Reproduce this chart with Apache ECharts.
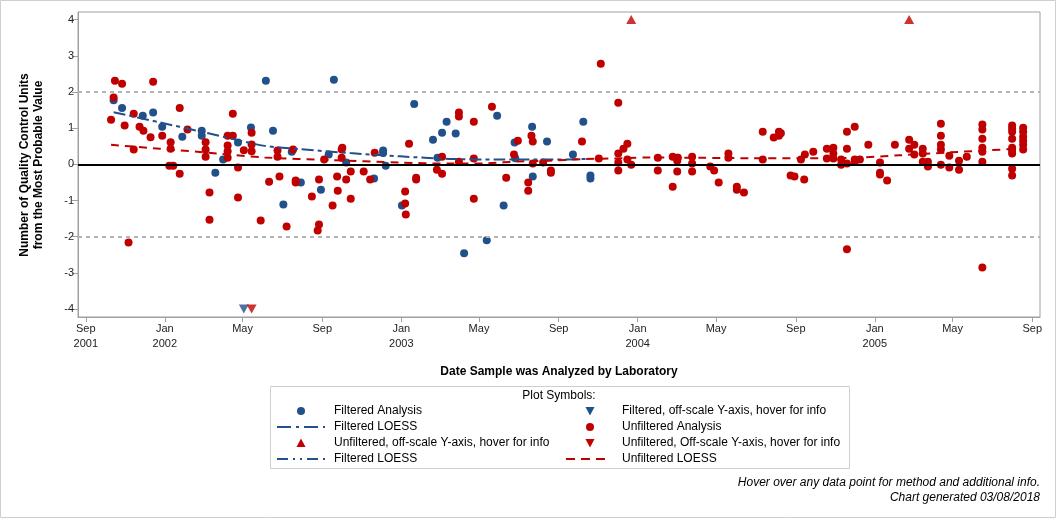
<!DOCTYPE html>
<html>
<head>
<meta charset="utf-8">
<script src="https://cdn.jsdelivr.net/npm/echarts@6/dist/echarts.min.js"></script>
<style>html,body{margin:0;padding:0;background:#fff}#c{width:1056px;height:518px}</style>
</head>
<body>
<div id="c"></div>
<script>
// ---------------- DATA ----------------
const tickDates = ['2001-09-01','2002-01-01','2002-05-01','2002-09-01','2003-01-01','2003-05-01','2003-09-01','2004-01-01','2004-05-01','2004-09-01','2005-01-01','2005-05-01','2005-09-01'];
const tickLabels = ['Sep\n2001','Jan\n2002','May','Sep','Jan\n2003','May','Sep','Jan\n2004','May','Sep','Jan\n2005','May','Sep'];
const yTicks = [-4,-3,-2,-1,0,1,2,3,4];
const xRange = ['2001-08-20','2005-09-13'];
const yRange = [-4.22, 4.21];
const refLevels = [0, 2, -2];

const filteredAnalysis = [
['2001-10-14',1.77],['2001-10-27',1.56],['2001-11-28',1.34],['2001-12-14',1.43],['2001-12-28',1.04],
['2002-01-28',0.76],['2002-02-27',0.93],['2002-02-27',0.79],['2002-03-20',-0.23],['2002-04-01',0.13],
['2002-04-24',0.60],['2002-05-14',1.02],['2002-06-06',2.31],['2002-06-17',0.93],['2002-07-03',-1.11],
['2002-07-16',0.35],['2002-07-30',-0.50],['2002-08-30',-0.70],['2002-09-11',0.27],['2002-09-19',2.34],
['2002-10-08',0.05],['2002-11-20',-0.39],['2002-12-04',0.38],['2002-12-04',0.31],['2002-12-08',-0.04],
['2003-01-02',-1.14],['2003-01-21',1.67],['2003-02-19',0.68],['2003-02-26',0.18],['2003-03-05',0.87],
['2003-03-12',1.18],['2003-03-26',0.85],['2003-04-08',-2.46],['2003-05-13',-2.10],['2003-05-29',1.34],
['2003-06-08',-1.14],['2003-06-25',0.60],['2003-06-26',0.17],['2003-07-22',1.04],['2003-07-23',-0.34],
['2003-08-14',0.63],['2003-09-23',0.27],['2003-10-09',1.18],['2003-10-20',-0.31],['2003-10-20',-0.39]
];
const filteredOffLow = [['2002-05-03',-4]];

const unfilteredAnalysis = [
['2001-10-16',2.31],['2001-10-27',2.23],['2001-12-14',2.28],['2001-10-14',1.85],['2001-10-10',1.23],
['2001-10-31',1.07],['2001-11-14',1.40],['2001-11-23',1.04],['2001-11-29',0.93],['2001-12-10',0.75],
['2001-11-14',0.41],['2001-12-28',0.79],['2002-01-10',0.61],['2002-01-10',0.43],['2002-01-24',1.56],
['2002-02-05',0.96],['2002-01-08',-0.04],['2002-01-14',-0.04],['2002-01-24',-0.26],['2002-03-05',0.61],
['2002-03-05',0.41],['2002-03-05',0.21],['2002-03-11',-0.78],['2002-03-11',-1.53],['2001-11-06',-2.16],
['2002-04-08',0.79],['2002-04-16',0.79],['2002-04-16',1.40],['2002-04-08',0.52],['2002-04-08',0.36],
['2002-04-08',0.18],['2002-04-24',-0.09],['2002-04-24',-0.92],['2002-05-03',0.39],['2002-05-15',0.87],
['2002-05-15',0.55],['2002-05-15',0.36],['2002-05-29',-1.55],['2002-06-11',-0.48],['2002-06-24',0.38],
['2002-06-24',0.21],['2002-06-27',-0.34],['2002-07-08',-1.72],['2002-07-18',0.41],['2002-07-22',-0.45],
['2002-07-22',-0.50],['2002-08-16',-0.89],['2002-08-27',-0.42],['2002-08-27',-1.66],['2002-08-25',-1.83],
['2002-09-04',0.13],['2002-09-17',-1.14],['2002-09-24',-0.34],['2002-09-25',-0.73],['2002-10-01',0.18],
['2002-10-01',0.41],['2002-10-02',0.46],['2002-10-08',-0.42],['2002-10-15',-0.20],['2002-10-15',-0.95],
['2002-11-04',-0.20],['2002-11-14',-0.42],['2002-11-21',0.32],['2003-01-07',-0.75],['2003-01-07',-1.08],
['2003-01-08',-1.39],['2003-01-13',0.57],['2003-01-24',-0.37],['2003-01-24',-0.42],['2003-02-25',-0.15],
['2003-03-05',-0.26],['2003-03-05',0.21],['2003-03-31',1.43],['2003-03-31',1.32],['2003-03-31',0.07],
['2003-04-23',1.18],['2003-05-21',1.59],['2003-04-23',0.16],['2003-04-23',-0.95],['2003-06-12',-0.37],
['2003-06-24',0.27],['2003-06-30',0.65],['2003-07-21',0.79],['2003-07-23',0.63],['2003-07-23',0.02],
['2003-07-16',-0.50],['2003-07-16',-0.73],['2003-08-08',0.05],['2003-08-20',-0.17],['2003-08-20',-0.23],
['2003-10-07',0.63],['2003-11-02',0.16],['2003-11-05',2.78],['2003-12-02',1.70],['2003-12-02',0.30],
['2003-12-02',0.05],['2003-12-02',-0.17],['2003-12-10',0.43],['2003-12-16',0.57],['2003-12-16',0.13],
['2003-12-22',-0.01],['2004-02-01',0.18],['2004-02-01',-0.17],['2004-02-24',0.21],['2004-03-02',0.18],
['2004-03-03',0.18],['2004-03-02',0.10],['2004-03-02',-0.20],['2004-02-24',-0.62],['2004-03-25',0.21],
['2004-03-25',0.02],['2004-03-25',-0.20],['2004-04-22',-0.06],['2004-04-28',-0.17],['2004-05-05',-0.50],
['2004-05-20',0.30],['2004-05-20',0.18],['2004-06-02',-0.62],['2004-06-02',-0.70],['2004-06-13',-0.78],
['2004-07-12',0.90],['2004-07-12',0.13],['2004-07-29',0.74],['2004-08-06',0.90],['2004-08-09',0.86],
['2004-08-06',0.79],['2004-08-24',-0.31],['2004-08-30',-0.34],['2004-09-09',0.13],['2004-09-15',0.27],
['2004-09-14',-0.42],['2004-09-28',0.35],['2004-10-19',0.43],['2004-10-19',0.16],['2004-10-29',0.46],
['2004-10-29',0.30],['2004-10-29',0.16],['2004-11-10',0.13],['2004-11-10',-0.01],['2004-11-19',0.90],
['2004-11-19',0.43],['2004-11-19',0.02],['2004-11-19',-2.35],['2004-12-01',1.04],['2004-12-01',0.13],
['2004-12-01',0.07],['2004-12-09',0.13],['2004-12-22',0.54],['2005-01-09',0.05],['2005-01-09',-0.23],
['2005-01-09',-0.28],['2005-01-20',-0.45],['2005-02-01',0.54],['2005-02-23',0.68],['2005-02-23',0.43],
['2005-03-03',0.54],['2005-03-03',0.27],['2005-03-16',0.43],['2005-03-16',0.30],['2005-03-16',0.07],
['2005-03-24',0.07],['2005-03-24',-0.06],['2005-04-13',1.12],['2005-04-13',0.79],['2005-04-13',0.54],
['2005-04-13',0.41],['2005-04-13',-0.01],['2005-04-26',0.24],['2005-04-26',-0.09],['2005-05-11',0.10],
['2005-05-11',-0.15],['2005-05-23',0.21],['2005-06-16',-2.85],['2005-06-16',1.10],['2005-06-16',0.96],
['2005-06-16',0.71],['2005-06-16',0.46],['2005-06-16',0.35],['2005-06-16',0.07],['2005-08-01',1.07],
['2005-08-01',0.98],['2005-08-01',0.90],['2005-08-01',0.71],['2005-08-01',0.46],['2005-08-01',0.38],
['2005-08-01',0.30],['2005-08-01',-0.12],['2005-08-01',-0.31],['2005-08-18',1.01],['2005-08-18',0.90],
['2005-08-18',0.76],['2005-08-18',0.65],['2005-08-18',0.54],['2005-08-18',0.41]
];
const unfilteredOffHigh = [['2003-12-22',4],['2005-02-23',4]];
const unfilteredOffLow = [['2002-05-15',-4]];

const filteredLoess = [
['2001-10-14',1.44],['2001-12-24',1.16],['2002-02-24',0.91],['2002-04-26',0.66],['2002-06-04',0.51],
['2002-07-28',0.42],['2002-10-14',0.31],['2002-12-30',0.22],['2003-03-17',0.15],['2003-06-02',0.13],
['2003-08-18',0.13],['2003-10-19',0.15]
];
const unfilteredLoess = [
['2001-10-10',0.54],['2001-12-24',0.43],['2002-02-24',0.34],['2002-06-04',0.19],['2002-09-12',0.12],
['2002-12-30',0.05],['2003-03-17',0.02],['2003-05-15',0.03],['2003-07-01',0.08],['2003-08-18',0.10],
['2003-10-05',0.14],['2003-12-10',0.17],['2004-01-20',0.19],['2004-04-05',0.18],['2004-06-22',0.17],
['2004-09-07',0.17],['2004-11-23',0.18],['2005-02-08',0.25],['2005-04-27',0.33],['2005-07-29',0.42]
];

const legendRows = [
  [{sym:'circle', color:'blue', text:'Filtered Analysis'}, {sym:'down', color:'blue', text:'Filtered, off-scale Y-axis, hover for info'}],
  [{sym:'dashdot', color:'blue', text:'Filtered LOESS'}, {sym:'circle', color:'red', text:'Unfiltered Analysis'}],
  [{sym:'up', color:'red', text:'Unfiltered, off-scale Y-axis, hover for info'}, {sym:'down', color:'red', text:'Unfiltered, Off-scale Y-axis, hover for info'}],
  [{sym:'dashdotdot', color:'blue', text:'Filtered LOESS'}, {sym:'dash', color:'red', text:'Unfiltered LOESS'}]
];

// ---------------- RENDER ----------------
const BLUE = '#22508a', RED = '#c00000';
const FONT = '"Liberation Sans", Arial, sans-serif';
function d(s){ const p = s.split('-').map(Number); return Date.UTC(p[0], p[1]-1, p[2]); }
const conv = arr => arr.map(r => [d(r[0]), r[1]]);
const tickTs = tickDates.map(d);

const chart = echarts.init(document.getElementById('c'), null, {renderer:'canvas'});

const G = {left:78, top:12, width:962, height:305};

const graphics = [];
graphics.push({type:'rect', shape:{x:0.5,y:0.5,width:1055,height:517}, style:{fill:'none', stroke:'#cfcfcf', lineWidth:1}, silent:true});
graphics.push({type:'text', x:32, y:165, rotation:Math.PI/2, style:{text:'Number of Quality Control Units\nfrom the Most Probable Value', font:'bold 12px '+FONT, fill:'#000', align:'center', verticalAlign:'middle', lineHeight:14}});
graphics.push({type:'text', x:559, y:372, style:{text:'Date Sample was Analyzed by Laboratory', font:'bold 12px '+FONT, fill:'#000', align:'center', verticalAlign:'middle'}});
graphics.push({type:'rect', shape:{x:270.5,y:386.5,width:579,height:82}, style:{fill:'none', stroke:'#cfcfcf', lineWidth:1}});
graphics.push({type:'text', x:559, y:396, style:{text:'Plot Symbols:', font:'12px '+FONT, fill:'#000', align:'center', verticalAlign:'middle'}});
const colSym = [301, 590], colLineL = [[277,325],[566,610]], colText = [334, 622];
legendRows.forEach((row, i) => {
  const y = 411 + i*16;
  row.forEach((it, j) => {
    const col = it.color === 'blue' ? BLUE : RED;
    const cx = colSym[j];
    if (it.sym === 'circle') graphics.push({type:'circle', shape:{cx:cx, cy:y, r:4}, style:{fill:col}});
    else if (it.sym === 'up') graphics.push({type:'polygon', shape:{points:[[cx-4.5,y+4],[cx+4.5,y+4],[cx,y-4.5]]}, style:{fill:col}});
    else if (it.sym === 'down') graphics.push({type:'polygon', shape:{points:[[cx-4.5,y-4],[cx+4.5,y-4],[cx,y+4.5]]}, style:{fill:col}});
    else {
      const dash = it.sym === 'dashdot' ? [14,5,3,5] : it.sym === 'dashdotdot' ? [11,5,2,5,2,5] : [9,6];
      graphics.push({type:'line', shape:{x1:colLineL[j][0], y1:y, x2:colLineL[j][1], y2:y}, style:{stroke:col, lineWidth:2, lineDash:dash}});
    }
    graphics.push({type:'text', x:colText[j], y:y, style:{text:it.text, font:'12px '+FONT, fill:'#000', align:'left', verticalAlign:'middle'}});
  });
});
graphics.push({type:'text', x:1040, y:483, style:{text:'Hover over any data point for method and additional info.', font:'italic 12px '+FONT, fill:'#000', align:'right', verticalAlign:'middle'}});
graphics.push({type:'text', x:1040, y:498, style:{text:'Chart generated 03/08/2018', font:'italic 12px '+FONT, fill:'#000', align:'right', verticalAlign:'middle'}});

const option = {
  animation:false,
  backgroundColor:'#fff',
  grid:{left:G.left, top:G.top, width:G.width, height:G.height, show:true, borderColor:'#a0a0a0', borderWidth:1, containLabel:false},
  xAxis:{
    type:'value', min:d(xRange[0]), max:d(xRange[1]),
    axisLine:{show:true, onZero:false, lineStyle:{color:'#a0a0a0'}},
    axisTick:{show:true, length:5, inside:false, lineStyle:{color:'#a0a0a0'}, customValues:tickTs},
    axisLabel:{show:true, color:'#222', fontSize:11, fontFamily:FONT, margin:4, lineHeight:15, customValues:tickTs,
      formatter:function(v){ const i = tickTs.indexOf(v); return i>=0 ? tickLabels[i] : ''; }},
    splitLine:{show:false}, minorTick:{show:false}
  },
  yAxis:{
    type:'value', min:yRange[0], max:yRange[1],
    axisLine:{show:true, onZero:false, lineStyle:{color:'#a0a0a0'}},
    axisTick:{show:true, length:6, lineStyle:{color:'#a0a0a0'}, customValues:yTicks},
    axisLabel:{show:true, color:'#222', fontSize:11, fontFamily:FONT, margin:4, customValues:yTicks},
    splitLine:{show:false}
  },
  graphic:graphics,
  series:[
    {type:'scatter', data:[], z:1, silent:true,
      markLine:{silent:true, symbol:'none', label:{show:false}, animation:false,
        data: refLevels.map(v => ({yAxis:v, lineStyle: v===0 ? {color:'#000', width:2, type:'solid'} : {color:'#b4b4b4', width:2, type:[4,4]}}))}},
    {name:'Filtered Analysis', type:'scatter', data:conv(filteredAnalysis), symbol:'circle', symbolSize:8, itemStyle:{color:BLUE, opacity:1}, z:3},
    {name:'Unfiltered Analysis', type:'scatter', data:conv(unfilteredAnalysis), symbol:'circle', symbolSize:8, itemStyle:{color:RED, opacity:1}, z:3},
    {name:'Filtered off-scale', type:'scatter', data:conv(filteredOffLow), symbol:'triangle', symbolRotate:180, symbolSize:[10,9], itemStyle:{color:BLUE}, z:3},
    {name:'Unfiltered off-scale low', type:'scatter', data:conv(unfilteredOffLow), symbol:'triangle', symbolRotate:180, symbolSize:[10,9], itemStyle:{color:RED}, z:3},
    {name:'Unfiltered off-scale high', type:'scatter', data:conv(unfilteredOffHigh), symbol:'triangle', symbolSize:[10,9], itemStyle:{color:RED}, z:3},
    {name:'Filtered LOESS', type:'line', data:conv(filteredLoess), smooth:0.3, showSymbol:false, symbol:'none', lineStyle:{color:BLUE, width:2, type:[12,4,4,4]}, z:4},
    {name:'Unfiltered LOESS', type:'line', data:conv(unfilteredLoess), smooth:0.3, showSymbol:false, symbol:'none', lineStyle:{color:RED, width:2, type:[8,6]}, z:4}
  ]
};
chart.setOption(option);
</script>
</body>
</html>
